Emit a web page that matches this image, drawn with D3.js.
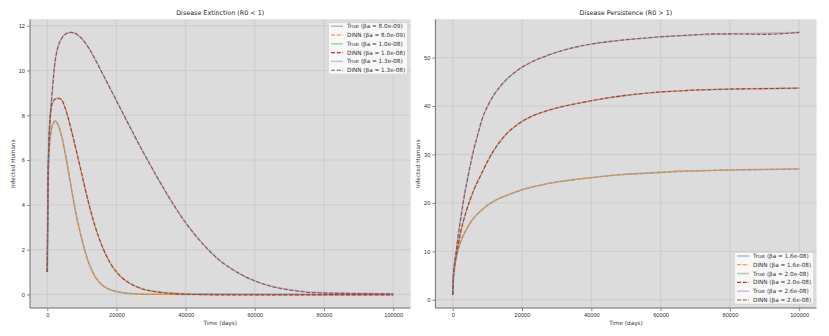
<!DOCTYPE html>
<html>
<head>
<meta charset="utf-8">
<script src="https://cdn.jsdelivr.net/npm/d3@7"></script>
<style>
  body { margin: 0; background: #fff; }
  svg { font-family: "DejaVu Sans", sans-serif; }
</style>
</head>
<body>
<div id="chart"></div>
<script>
// time samples (days)
const days = [0, 200, 500, 1000, 1500, 2250, 3000, 4000, 5000, 6000, 7000, 8500, 10000, 12000, 14000, 16000, 18000, 20000,
  22500, 25000, 27500, 30000, 35000, 40000, 45000, 50000, 55000, 60000, 65000, 70000, 75000, 80000, 90000, 100000]

// Disease Extinction (R0 < 1)
const extinctionBetas = ['8.0e-09', '1.0e-08', '1.3e-08']
const extTrue1 = [1, 4.5, 6.3, 7.2, 7.55, 7.74, 7.62, 7.15, 6.45, 5.6, 4.7, 3.45, 2.45, 1.4, 0.75, 0.4, 0.22, 0.13,
  0.06, 0.03, 0.015, 0.01, 0.005, 0.003, 0.002, 0.001, 0, 0, 0, 0, 0, 0, 0, 0]
const extDinn1 = [1, 4.5, 6.3, 7.2, 7.55, 7.74, 7.62, 7.15, 6.45, 5.6, 4.7, 3.45, 2.45, 1.4, 0.75, 0.4, 0.22, 0.13,
  0.06, 0.03, 0.012, 0.005, 0, -0.005, -0.005, -0.005, -0.005, -0.005, -0.005, -0.005, -0.005, 0, 0, 0]
const extTrue2 = [1, 4.8, 7.0, 8.2, 8.55, 8.72, 8.76, 8.72, 8.4, 7.9, 7.3, 6.35, 5.35, 4.05, 2.95, 2.1, 1.45, 1.0,
  0.63, 0.4, 0.25, 0.16, 0.07, 0.03, 0.015, 0.01, 0.005, 0.003, 0.002, 0.001, 0, 0, 0, 0]
const extDinn2 = [1, 4.8, 7.0, 8.2, 8.55, 8.72, 8.76, 8.72, 8.4, 7.9, 7.3, 6.35, 5.35, 4.05, 2.95, 2.1, 1.45, 1.0,
  0.63, 0.4, 0.24, 0.15, 0.06, 0.01, -0.01, -0.02, -0.02, -0.02, -0.02, -0.02, -0.02, -0.02, -0.02, -0.02]
const extTrue3 = [1, 5.0, 6.8, 8.2, 9.2, 10.4, 11.0, 11.4, 11.6, 11.68, 11.7, 11.62, 11.42, 11.0, 10.45, 9.85, 9.25, 8.65,
  7.9, 7.15, 6.42, 5.72, 4.38, 3.2, 2.25, 1.5, 0.98, 0.6, 0.36, 0.21, 0.12, 0.08, 0.05, 0.03]
const extDinn3 = [1, 5.0, 6.8, 8.2, 9.2, 10.4, 11.0, 11.4, 11.6, 11.68, 11.7, 11.62, 11.42, 11.0, 10.45, 9.85, 9.25, 8.65,
  7.9, 7.15, 6.42, 5.72, 4.38, 3.2, 2.25, 1.5, 0.98, 0.6, 0.35, 0.2, 0.1, 0.06, 0.04, 0.02]

// Disease Persistence (R0 > 1)
const persistenceBetas = ['1.6e-08', '2.0e-08', '2.6e-08']
const perTrue1 = [1, 4.5, 6.5, 8.6, 10.2, 11.9, 13.2, 14.6, 15.8, 16.8, 17.6, 18.6, 19.5, 20.4, 21.1, 21.7, 22.2, 22.7,
  23.2, 23.6, 24.0, 24.3, 24.8, 25.2, 25.6, 25.9, 26.1, 26.3, 26.5, 26.6, 26.7, 26.8, 26.9, 27.0]
const perDinn1 = [1, 4.5, 6.5, 8.6, 10.2, 11.9, 13.2, 14.6, 15.8, 16.8, 17.6, 18.6, 19.5, 20.4, 21.1, 21.7, 22.2, 22.7,
  23.2, 23.6, 24.0, 24.3, 24.8, 25.2, 25.6, 25.9, 26.1, 26.3, 26.5, 26.6, 26.7, 26.8, 26.9, 27.0]
const perTrue2 = [1, 4.5, 6.8, 9.0, 11.0, 13.8, 16.0, 18.5, 20.6, 22.5, 24.1, 26.3, 28.5, 31.0, 33.0, 34.6, 35.8, 36.8,
  37.8, 38.5, 39.1, 39.6, 40.4, 41.1, 41.7, 42.2, 42.6, 42.9, 43.1, 43.3, 43.4, 43.5, 43.6, 43.7]
const perDinn2 = [1, 4.5, 6.8, 9.0, 11.0, 13.8, 16.0, 18.5, 20.6, 22.5, 24.1, 26.3, 28.5, 31.0, 33.0, 34.6, 35.8, 36.8,
  37.8, 38.5, 39.1, 39.6, 40.4, 41.1, 41.7, 42.2, 42.6, 42.9, 43.1, 43.3, 43.4, 43.5, 43.6, 43.7]
const perTrue3 = [1, 5.0, 7.5, 10.0, 12.8, 16.5, 20.0, 24.0, 27.5, 30.8, 33.5, 37.3, 39.9, 42.4, 44.3, 45.8, 47.0, 48.0,
  49.0, 49.8, 50.5, 51.1, 52.1, 52.8, 53.3, 53.7, 54.0, 54.3, 54.5, 54.7, 54.8, 54.9, 55.0, 55.2]
const perDinn3 = [1, 5.0, 7.5, 10.0, 12.8, 16.5, 20.0, 24.0, 27.5, 30.8, 33.5, 37.3, 39.9, 42.4, 44.3, 45.8, 47.0, 48.0,
  49.0, 49.8, 50.5, 51.1, 52.1, 52.8, 53.3, 53.7, 54.0, 54.3, 54.5, 54.7, 54.9, 54.9, 54.8, 55.2]

const xTicks = [0, 20000, 40000, 60000, 80000, 100000]
const extYTicks = [0, 2, 4, 6, 8, 10, 12]
const perYTicks = [0, 10, 20, 30, 40, 50]

const trueColors = ['#1f77b4', '#2ca02c', '#9467bd']
const dinnColors = ['#ff7f0e', '#d62728', '#8c564b']

const width = 829, height = 336
const svg = d3.select('#chart').append('svg')
  .attr('width', width)
  .attr('height', height)

function panel(opts) {
  const {left, right, top, bottom, title, betas, trueSeries, dinnSeries, yTicks, legendPos} = opts
  const allVals = trueSeries.concat(dinnSeries).flat()
  const ymin = d3.min(allVals), ymax = d3.max(allVals)
  const ypad = (ymax - ymin) * 0.05
  const x = d3.scaleLinear().domain([-5000, 105000]).range([left, right])
  const y = d3.scaleLinear().domain([ymin - ypad, ymax + ypad]).range([bottom, top])

  const g = svg.append('g')
  g.append('rect')
    .attr('x', left).attr('y', top)
    .attr('width', right - left).attr('height', bottom - top)
    .attr('fill', '#dcdcdc')

  // grid
  g.selectAll('.vgrid').data(xTicks).enter().append('line')
    .attr('x1', d => x(d)).attr('x2', d => x(d))
    .attr('y1', top).attr('y2', bottom)
    .attr('stroke', '#c6c6c6').attr('stroke-width', 0.7)
  g.selectAll('.hgrid').data(yTicks).enter().append('line')
    .attr('x1', left).attr('x2', right)
    .attr('y1', d => y(d)).attr('y2', d => y(d))
    .attr('stroke', '#c6c6c6').attr('stroke-width', 0.7)

  const line = d3.line()
    .x((d, i) => x(days[i]))
    .y(d => y(d))
    .curve(d3.curveMonotoneX)

  const clipId = 'clip' + Math.round(left)
  svg.append('clipPath').attr('id', clipId).append('rect')
    .attr('x', left).attr('y', top).attr('width', right - left).attr('height', bottom - top)
  const lines = g.append('g').attr('clip-path', `url(#${clipId})`)
  trueSeries.forEach((s, i) => {
    lines.append('path').datum(s)
      .attr('d', line)
      .attr('fill', 'none')
      .attr('stroke', trueColors[i])
      .attr('stroke-opacity', 0.4)
      .attr('stroke-width', 1.6)
    lines.append('path').datum(dinnSeries[i])
      .attr('d', line)
      .attr('fill', 'none')
      .attr('stroke', dinnColors[i])
      .attr('stroke-width', 1.1)
      .attr('stroke-dasharray', '4,1.7')
  })

  // axes
  const xAxis = g.append('g')
    .attr('transform', `translate(0,${bottom})`)
    .call(d3.axisBottom(x).tickValues(xTicks).tickFormat(d3.format('d')).tickSize(3).tickPadding(2))
  const yAxis = g.append('g')
    .attr('transform', `translate(${left},0)`)
    .call(d3.axisLeft(y).tickValues(yTicks).tickSize(3).tickPadding(2))
  ;[xAxis, yAxis].forEach(a => {
    a.select('.domain').attr('stroke', '#6e6e6e').attr('stroke-width', 1)
    a.selectAll('.tick line').attr('stroke', '#6e6e6e').attr('stroke-width', 0.8)
    a.selectAll('.tick text').attr('fill', '#333').style('font-size', '5.7px')
  })
  xAxis.select('.domain').attr('d', `M${left},0H${right}`)
  yAxis.select('.domain').attr('d', `M0,${top}V${bottom}`)

  g.append('text')
    .attr('x', (left + right) / 2).attr('y', top - 4.5)
    .attr('text-anchor', 'middle')
    .style('font-size', '6.4px').attr('fill', '#222')
    .text(title)
  g.append('text')
    .attr('x', (left + right) / 2).attr('y', bottom + 16.5)
    .attr('text-anchor', 'middle')
    .style('font-size', '5.7px').attr('fill', '#333')
    .text('Time (days)')
  g.append('text')
    .attr('transform', `translate(${left - 15},${(top + bottom) / 2}) rotate(-90)`)
    .attr('text-anchor', 'middle')
    .style('font-size', '5.7px').attr('fill', '#333')
    .text('Infected Humans')

  // legend
  const lw = 79, lh = 51.5, rowH = 8.8
  const lx = right - 3 - lw
  const ly = legendPos === 'upper right' ? top + 3.4 : bottom - 4 - lh
  const lg = g.append('g').attr('transform', `translate(${lx},${ly})`)
  lg.append('rect')
    .attr('width', lw).attr('height', lh).attr('rx', 1.5)
    .attr('fill', '#fff').attr('fill-opacity', 0.8)
    .attr('stroke', '#d0d0d0').attr('stroke-width', 0.6)
  const entries = []
  betas.forEach((b, i) => {
    entries.push({label: `True (βa = ${b})`, color: trueColors[i], dash: null})
    entries.push({label: `DINN (βa = ${b})`, color: dinnColors[i], dash: '4,1.7'})
  })
  entries.forEach((e, i) => {
    const cy = 3.5 + i * rowH
    lg.append('line')
      .attr('x1', 2.5).attr('x2', 14.5).attr('y1', cy).attr('y2', cy)
      .attr('stroke', e.color)
      .attr('stroke-width', e.dash ? 1.1 : 1.6)
      .attr('stroke-opacity', e.dash ? 1 : 0.4)
      .attr('stroke-dasharray', e.dash)
    lg.append('text')
      .attr('x', 18.5).attr('y', cy + 2)
      .style('font-size', '5.7px').attr('fill', '#333')
      .text(e.label)
  })
}

panel({
  left: 30, right: 410.5, top: 19.3, bottom: 308,
  title: 'Disease Extinction (R0 < 1)',
  betas: extinctionBetas,
  trueSeries: [extTrue1, extTrue2, extTrue3],
  dinnSeries: [extDinn1, extDinn2, extDinn3],
  yTicks: extYTicks,
  legendPos: 'upper right'
})

panel({
  left: 435.4, right: 816.5, top: 19.3, bottom: 308,
  title: 'Disease Persistence (R0 > 1)',
  betas: persistenceBetas,
  trueSeries: [perTrue1, perTrue2, perTrue3],
  dinnSeries: [perDinn1, perDinn2, perDinn3],
  yTicks: perYTicks,
  legendPos: 'lower right'
})
</script>
</body>
</html>
